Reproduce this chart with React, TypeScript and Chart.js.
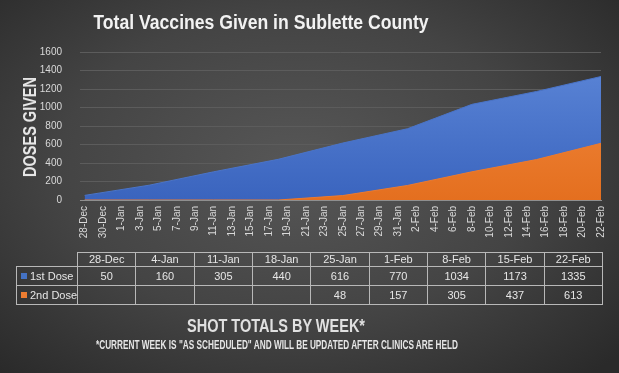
import React, { useEffect, useLayoutEffect, useRef, useState } from "react";
import { Chart, registerables } from "chart.js";

Chart.register(...registerables);

// ---- data ----
const weekLabels = ["28-Dec", "4-Jan", "11-Jan", "18-Jan", "25-Jan", "1-Feb", "8-Feb", "15-Feb", "22-Feb"];
// days since 28-Dec for each weekly column
const weekDayOffsets = [0, 7, 14, 21, 28, 35, 42, 49, 56];
const firstDose = [50, 160, 305, 440, 616, 770, 1034, 1173, 1335];
const secondDose: (number | null)[] = [null, null, null, null, 48, 157, 305, 437, 613];
const tickLabels = [
  "28-Dec", "30-Dec", "1-Jan", "3-Jan", "5-Jan", "7-Jan", "9-Jan", "11-Jan", "13-Jan", "15-Jan",
  "17-Jan", "19-Jan", "21-Jan", "23-Jan", "25-Jan", "27-Jan", "29-Jan", "31-Jan", "2-Feb", "4-Feb",
  "6-Feb", "8-Feb", "10-Feb", "12-Feb", "14-Feb", "16-Feb", "18-Feb", "20-Feb", "22-Feb",
];
const titleText = "Total Vaccines Given in Sublette County";
const yTitleText = "DOSES GIVEN";
const footerTitle = "SHOT TOTALS BY WEEK*";
const footerNote = '*CURRENT WEEK IS "AS SCHEDULED" AND WILL BE UPDATED AFTER CLINICS ARE HELD';
const seriesNames = ["1st Dose", "2nd Dose"];

const BLUE = "#4472c4";
const ORANGE = "#ed7d31";
const FONT = "'Liberation Sans', Arial, sans-serif";

function FitText(props: {
  text: string; cx: number; cy?: number; baseline?: number; size: number; width: number;
  weight?: number; color?: string; rotate?: boolean;
}) {
  const ref = useRef<HTMLSpanElement>(null);
  const [k, setK] = useState(1);
  useLayoutEffect(() => {
    if (ref.current) {
      const w = ref.current.offsetWidth;
      if (w > 0) setK(props.width / w);
    }
  }, [props.text, props.width, props.size]);
  const fs = props.size;
  const style: React.CSSProperties = {
    position: "absolute",
    left: props.cx,
    whiteSpace: "nowrap",
    fontFamily: FONT,
    fontWeight: props.weight ?? 700,
    fontSize: fs,
    lineHeight: `${fs}px`,
    color: props.color ?? "#f2f2f2",
    transformOrigin: "0 0",
  };
  if (props.rotate) {
    style.top = props.cy;
    style.transform = `rotate(-90deg) scaleX(${k}) translate(-50%, -50%)`;
  } else {
    style.top = (props.baseline ?? 0) - 0.8465 * fs;
    style.transform = `scaleX(${k}) translateX(-50%)`;
  }
  return <span ref={ref} style={style}>{props.text}</span>;
}

function DataTable() {
  const left = 16;
  const top = 252;
  const firstW = 62;
  const colW = 58.33;
  const border = "1px solid #b8b8b8";
  const cell = (content: React.ReactNode, x: number, y: number, w: number, h: number, opts: any = {}) => (
    <div
      style={{
        position: "absolute", left: x, top: y, width: w, height: h, boxSizing: "border-box",
        borderRight: border, borderBottom: border,
        borderLeft: opts.left ? border : undefined,
        fontFamily: FONT, fontSize: 11, color: "#e6e6e6",
        display: "flex", alignItems: "center", justifyContent: opts.align === "left" ? "flex-start" : "center",
        whiteSpace: "nowrap",
      }}
    >
      {content}
    </div>
  );
  const cells: React.ReactNode[] = [];
  const rowH = [15, 19, 19];
  const rowY = [top, top + 15, top + 34];
  cells.push(
    <div key="hdrTop" style={{ position: "absolute", left: left + firstW - 1, top: top, width: colW * weekLabels.length + 1, height: 1, background: "#b8b8b8" }} />
  );
  cells.push(
    <div key="legTop" style={{ position: "absolute", left: left, top: rowY[1] - 1, width: firstW, height: 1, background: "#b8b8b8" }} />
  );
  cells.push(
    <div key="hdrLeft" style={{ position: "absolute", left: left + firstW - 1, top: top, width: 1, height: rowH[0], background: "#b8b8b8" }} />
  );
  weekLabels.forEach((lab, i) => {
    cells.push(<React.Fragment key={"h" + i}>{cell(lab, left + firstW + i * colW, rowY[0], colW, rowH[0])}</React.Fragment>);
  });
  const rows = [firstDose, secondDose];
  const colors = [BLUE, ORANGE];
  rows.forEach((vals, r) => {
    const y = rowY[r + 1];
    cells.push(
      <React.Fragment key={"l" + r}>
        {cell(
          <span style={{ display: "flex", alignItems: "center" }}>
            <span style={{ display: "inline-block", width: 6, height: 6, background: colors[r], marginLeft: 4, marginRight: 3 }} />
            {seriesNames[r]}
          </span>,
          left, y - 1, firstW, rowH[r + 1] + 1, { left: true, align: "left" }
        )}
      </React.Fragment>
    );
    vals.forEach((v, i) => {
      cells.push(
        <React.Fragment key={"c" + r + "-" + i}>
          {cell(v == null ? "" : String(v), left + firstW + i * colW, y, colW, rowH[r + 1])}
        </React.Fragment>
      );
    });
  });
  return <>{cells}</>;
}

export default function App() {
  const canvasRef = useRef<HTMLCanvasElement>(null);

  useEffect(() => {
    document.body.style.margin = "0";
    const ctx = canvasRef.current!;
    const grad = (c: any, top: string, bottom: string) => {
      const { chart } = c;
      const area = chart.chartArea;
      if (!area) return top;
      const g = chart.ctx.createLinearGradient(0, area.top, 0, area.bottom);
      g.addColorStop(0, top);
      g.addColorStop(1, bottom);
      return g;
    };
    const chart = new Chart(ctx, {
      type: "line",
      data: {
        datasets: [
          {
            label: seriesNames[0],
            data: firstDose.map((v, i) => ({ x: weekDayOffsets[i], y: v })),
            fill: "origin",
            backgroundColor: (c: any) => grad(c, "#5d87d8", "#3a64be"),
            borderColor: "#4a74c8",
            borderWidth: 1,
            pointRadius: 0,
            tension: 0,
            order: 2,
          },
          {
            label: seriesNames[1],
            data: secondDose.map((v, i) => ({ x: weekDayOffsets[i], y: v ?? 0 })),
            fill: "origin",
            backgroundColor: (c: any) => grad(c, "#f38c42", "#e46f1f"),
            borderColor: "#ec7a2e",
            borderWidth: 1,
            pointRadius: 0,
            tension: 0,
            order: 1,
          },
        ],
      },
      options: {
        animation: false,
        responsive: false,
        events: [],
        layout: { padding: { left: 0, top: 52, right: 18, bottom: 123 } },
        plugins: { legend: { display: false }, title: { display: false }, tooltip: { enabled: false } },
        scales: {
          x: {
            type: "linear",
            min: -0.5,
            max: 56,
            afterBuildTicks: (s: any) => {
              s.ticks = tickLabels.map((_, i) => ({ value: i * 2 }));
            },
            ticks: {
              autoSkip: false,
              maxRotation: 90,
              minRotation: 90,
              padding: 6,
              color: "#d9d9d9",
              font: { family: FONT, size: 10 },
              callback: (v: any) => tickLabels[Math.round(Number(v) / 2)] ?? "",
            },
            grid: { display: false, drawTicks: false },
            border: { display: true, color: "#8f8f8f", width: 1 },
            afterFit: (s: any) => { s.height = 50; },
          },
          y: {
            min: 0,
            max: 1600,
            ticks: {
              stepSize: 200,
              padding: 18,
              color: "#d9d9d9",
              font: { family: FONT, size: 10 },
              callback: (v: any) => String(v),
            },
            grid: {
              drawTicks: false,
              color: (c: any) => (c.tick && c.tick.value === 0 ? "#8f8f8f" : "#5c5c5c"),
            },
            border: { display: false },
            afterFit: (s: any) => { s.width = 80; },
          },
        },
      },
    });
    return () => chart.destroy();
  }, []);

  return (
    <div
      style={{
        position: "absolute", left: 0, top: 0, width: 619, height: 373, overflow: "hidden",
        background: "radial-gradient(ellipse 70% 75% at 48% 45%, #575757 0%, #444444 55%, #2a2a2a 100%)",
      }}
    >
      <canvas ref={canvasRef} width={619} height={373} style={{ position: "absolute", left: 0, top: 0 }} />
      <FitText text={titleText} cx={261} baseline={29.5} size={19.5} width={335} />
      <FitText text={yTitleText} cx={30} cy={127} size={18} width={100} color="#e6e6e6" rotate />
      <DataTable />
      <FitText text={footerTitle} cx={276} baseline={332} size={18} width={178} color="#e0e0e0" />
      <FitText text={footerNote} cx={277} baseline={349} size={12.3} width={362} color="#e6e6e6" />
    </div>
  );
}
